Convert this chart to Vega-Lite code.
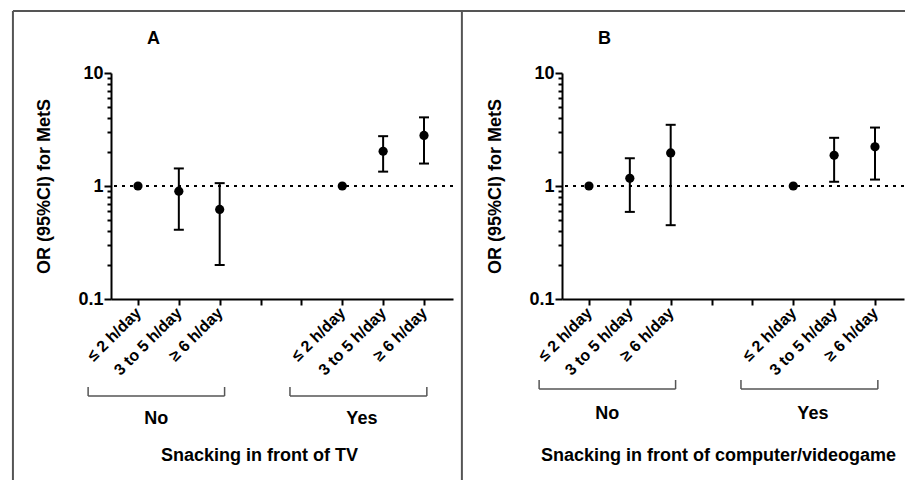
{
  "$schema": "https://vega.github.io/schema/vega-lite/v6.json",
  "padding": {"left": 11, "top": 9, "right": 0, "bottom": 0},
  "background": "white",
  "config": {
    "view": {"stroke": null},
    "font": "Liberation Sans",
    "axis": {"grid": false, "labelFont": "Liberation Sans", "titleFont": "Liberation Sans", "domainColor": "black", "tickColor": "black", "labelColor": "black", "titleColor": "black"},
    "title": {"font": "Liberation Sans", "color": "black"}
  },
  "datasets": {
    "tv": [
      {"pos": 1, "or": 1},
      {"pos": 2, "or": 0.90, "lo": 0.41, "hi": 1.43},
      {"pos": 3, "or": 0.62, "lo": 0.20, "hi": 1.06},
      {"pos": 6, "or": 1},
      {"pos": 7, "or": 2.03, "lo": 1.34, "hi": 2.76},
      {"pos": 8, "or": 2.80, "lo": 1.58, "hi": 4.05}
    ],
    "comp": [
      {"pos": 1, "or": 1},
      {"pos": 2, "or": 1.17, "lo": 0.59, "hi": 1.76},
      {"pos": 3, "or": 1.96, "lo": 0.45, "hi": 3.48},
      {"pos": 6, "or": 1},
      {"pos": 7, "or": 1.87, "lo": 1.09, "hi": 2.67},
      {"pos": 8, "or": 2.22, "lo": 1.14, "hi": 3.29}
    ],
    "groups": [
      {"group": "No", "x1": -0.22, "x2": 3.12, "mid": 1.45},
      {"group": "Yes", "x1": 4.72, "x2": 8.07, "mid": 6.48}
    ]
  },
  "columns": 2,
  "spacing": {"row": 77, "column": 109},
  "bounds": "flush",
  "concat": [
    {
      "width": 342, "height": 226,
      "title": {"text": "A", "anchor": "start", "dx": 36, "offset": 16, "fontSize": 18, "fontWeight": "bold", "frame": "group"},
      "data": {"name": "tv"},
      "layer": [
        {"mark": {"type": "rule", "strokeWidth": 2, "color": "black"},
         "encoding": {
           "x": {"field": "pos", "type": "quantitative", "scale": {"domain": [0.34, 8.71], "nice": false, "zero": false},
                 "axis": {"title": null, "values": [1, 2, 3, 4, 5, 6, 7, 8], "labelExpr": "['', '≤ 2 h/day', '3 to 5 h/day', '≥ 6 h/day', '', '', '≤ 2 h/day', '3 to 5 h/day', '≥ 6 h/day'][datum.value]", "labelAngle": -45, "labelAlign": "right", "labelBaseline": "middle", "labelFontSize": 16, "labelFontWeight": "bold", "labelPadding": 5, "labelOverlap": false, "labelFlush": false, "tickSize": 6, "tickWidth": 2, "domainWidth": 2}},
           "y": {"field": "lo", "type": "quantitative", "title": "OR (95%CI) for MetS",
                 "scale": {"type": "log", "domain": [0.1, 10], "nice": false},
                 "axis": {"values": [0.1, 0.2, 0.3, 0.4, 0.5, 0.6, 0.7, 0.8, 0.9, 1, 2, 3, 4, 5, 6, 7, 8, 9, 10], "labelExpr": "(datum.value == 0.1 || datum.value == 1 || datum.value == 10) ? format(datum.value, '~g') : ''", "tickSize": {"condition": {"test": "datum.value == 0.1 || datum.value == 1 || datum.value == 10", "value": 7}, "value": 4}, "tickWidth": 2, "domainWidth": 2, "labelFontSize": 18, "labelFontWeight": "bold", "labelPadding": 1, "labelOverlap": false, "titleFontSize": 18, "titleFontWeight": "bold", "titlePadding": 24}},
           "y2": {"field": "hi"}}},
        {"mark": {"type": "tick", "orient": "horizontal", "size": 10, "thickness": 2, "color": "black", "opacity": 1},
         "encoding": {"x": {"field": "pos", "type": "quantitative"}, "y": {"field": "lo", "type": "quantitative", "title": "OR (95%CI) for MetS"}}},
        {"mark": {"type": "tick", "orient": "horizontal", "size": 10, "thickness": 2, "color": "black", "opacity": 1},
         "encoding": {"x": {"field": "pos", "type": "quantitative"}, "y": {"field": "hi", "type": "quantitative", "title": "OR (95%CI) for MetS"}}},
        {"mark": {"type": "rule", "strokeDash": [3, 5], "strokeWidth": 2, "color": "black"},
         "encoding": {"y": {"datum": 1}}},
        {"mark": {"type": "point", "filled": true, "size": 85, "color": "black", "opacity": 1},
         "encoding": {"x": {"field": "pos", "type": "quantitative"}, "y": {"field": "or", "type": "quantitative", "title": "OR (95%CI) for MetS"}}}
      ]
    },
    {
      "width": 342, "height": 226,
      "title": {"text": "B", "anchor": "start", "dx": 36, "offset": 16, "fontSize": 18, "fontWeight": "bold", "frame": "group"},
      "data": {"name": "comp"},
      "layer": [
        {"mark": {"type": "rule", "strokeWidth": 2, "color": "black"},
         "encoding": {
           "x": {"field": "pos", "type": "quantitative", "scale": {"domain": [0.34, 8.71], "nice": false, "zero": false},
                 "axis": {"title": null, "values": [1, 2, 3, 4, 5, 6, 7, 8], "labelExpr": "['', '≤ 2 h/day', '3 to 5 h/day', '≥ 6 h/day', '', '', '≤ 2 h/day', '3 to 5 h/day', '≥ 6 h/day'][datum.value]", "labelAngle": -45, "labelAlign": "right", "labelBaseline": "middle", "labelFontSize": 16, "labelFontWeight": "bold", "labelPadding": 5, "labelOverlap": false, "labelFlush": false, "tickSize": 6, "tickWidth": 2, "domainWidth": 2}},
           "y": {"field": "lo", "type": "quantitative", "title": "OR (95%CI) for MetS",
                 "scale": {"type": "log", "domain": [0.1, 10], "nice": false},
                 "axis": {"values": [0.1, 0.2, 0.3, 0.4, 0.5, 0.6, 0.7, 0.8, 0.9, 1, 2, 3, 4, 5, 6, 7, 8, 9, 10], "labelExpr": "(datum.value == 0.1 || datum.value == 1 || datum.value == 10) ? format(datum.value, '~g') : ''", "tickSize": {"condition": {"test": "datum.value == 0.1 || datum.value == 1 || datum.value == 10", "value": 7}, "value": 4}, "tickWidth": 2, "domainWidth": 2, "labelFontSize": 18, "labelFontWeight": "bold", "labelPadding": 1, "labelOverlap": false, "titleFontSize": 18, "titleFontWeight": "bold", "titlePadding": 24}},
           "y2": {"field": "hi"}}},
        {"mark": {"type": "tick", "orient": "horizontal", "size": 10, "thickness": 2, "color": "black", "opacity": 1},
         "encoding": {"x": {"field": "pos", "type": "quantitative"}, "y": {"field": "lo", "type": "quantitative", "title": "OR (95%CI) for MetS"}}},
        {"mark": {"type": "tick", "orient": "horizontal", "size": 10, "thickness": 2, "color": "black", "opacity": 1},
         "encoding": {"x": {"field": "pos", "type": "quantitative"}, "y": {"field": "hi", "type": "quantitative", "title": "OR (95%CI) for MetS"}}},
        {"mark": {"type": "rule", "strokeDash": [3, 5], "strokeWidth": 2, "color": "black"},
         "encoding": {"y": {"datum": 1}}},
        {"mark": {"type": "point", "filled": true, "size": 85, "color": "black", "opacity": 1},
         "encoding": {"x": {"field": "pos", "type": "quantitative"}, "y": {"field": "or", "type": "quantitative", "title": "OR (95%CI) for MetS"}}}
      ]
    },
    {
      "width": 342, "height": 50,
      "data": {"name": "groups"},
      "layer": [
        {"mark": {"type": "rule", "color": "#555555", "strokeWidth": 1.5},
         "encoding": {
           "x": {"field": "x1", "type": "quantitative", "title": "Snacking in front of TV", "scale": {"domain": [0.34, 8.71], "nice": false, "zero": false},
                 "axis": {"labels": false, "ticks": false, "domain": false, "titleFontSize": 18, "titleFontWeight": "bold", "titlePadding": 20, "titleX": 148, "titleAlign": "center"}},
           "x2": {"field": "x2"},
           "y": {"datum": 30, "scale": {"domain": [0, 50], "nice": false, "zero": false}, "axis": null}}},
        {"mark": {"type": "rule", "color": "#555555", "strokeWidth": 1.5},
         "encoding": {"x": {"field": "x1", "type": "quantitative", "title": "Snacking in front of TV"}, "y": {"datum": 30, "axis": null}, "y2": {"datum": 39}}},
        {"mark": {"type": "rule", "color": "#555555", "strokeWidth": 1.5},
         "encoding": {"x": {"field": "x2", "type": "quantitative", "title": "Snacking in front of TV"}, "y": {"datum": 30, "axis": null}, "y2": {"datum": 39}}},
        {"mark": {"type": "text", "fontSize": 18, "fontWeight": "bold", "baseline": "middle", "color": "black"},
         "encoding": {"x": {"field": "mid", "type": "quantitative", "title": "Snacking in front of TV"}, "y": {"datum": 7, "axis": null}, "text": {"field": "group"}}},
        {"data": {"values": [{}]}, "mark": {"type": "rule", "color": "#555555", "strokeWidth": 2},
         "encoding": {"x": {"datum": -2.06}, "y": {"datum": -65, "axis": null}, "y2": {"datum": 415}}},
        {"data": {"values": [{}]}, "mark": {"type": "rule", "color": "#555555", "strokeWidth": 2},
         "encoding": {"x": {"datum": -2.06}, "x2": {"datum": 8.93}, "y": {"datum": 415, "axis": null}}}
      ]
    },
    {
      "width": 342, "height": 50,
      "data": {"name": "groups"},
      "layer": [
        {"mark": {"type": "rule", "color": "#555555", "strokeWidth": 1.5},
         "encoding": {
           "x": {"field": "x1", "type": "quantitative", "title": "Snacking in front of computer/videogame", "scale": {"domain": [0.34, 8.71], "nice": false, "zero": false},
                 "axis": {"labels": false, "ticks": false, "domain": false, "titleFontSize": 18, "titleFontWeight": "bold", "titlePadding": 20, "titleX": 156, "titleAlign": "center"}},
           "x2": {"field": "x2"},
           "y": {"datum": 37, "scale": {"domain": [0, 50], "nice": false, "zero": false}, "axis": null}}},
        {"mark": {"type": "rule", "color": "#555555", "strokeWidth": 1.5},
         "encoding": {"x": {"field": "x1", "type": "quantitative", "title": "Snacking in front of computer/videogame"}, "y": {"datum": 37, "axis": null}, "y2": {"datum": 46}}},
        {"mark": {"type": "rule", "color": "#555555", "strokeWidth": 1.5},
         "encoding": {"x": {"field": "x2", "type": "quantitative", "title": "Snacking in front of computer/videogame"}, "y": {"datum": 37, "axis": null}, "y2": {"datum": 46}}},
        {"mark": {"type": "text", "fontSize": 18, "fontWeight": "bold", "baseline": "middle", "color": "black"},
         "encoding": {"x": {"field": "mid", "type": "quantitative", "title": "Snacking in front of computer/videogame"}, "y": {"datum": 12, "axis": null}, "text": {"field": "group"}}},
        {"data": {"values": [{}]}, "mark": {"type": "rule", "color": "#555555", "strokeWidth": 2},
         "encoding": {"x": {"datum": -2.11}, "y": {"datum": -65, "axis": null}, "y2": {"datum": 415}}},
        {"data": {"values": [{}]}, "mark": {"type": "rule", "color": "#555555", "strokeWidth": 2},
         "encoding": {"x": {"datum": -2.11}, "x2": {"datum": 9.6}, "y": {"datum": 415, "axis": null}}}
      ]
    }
  ]
}
